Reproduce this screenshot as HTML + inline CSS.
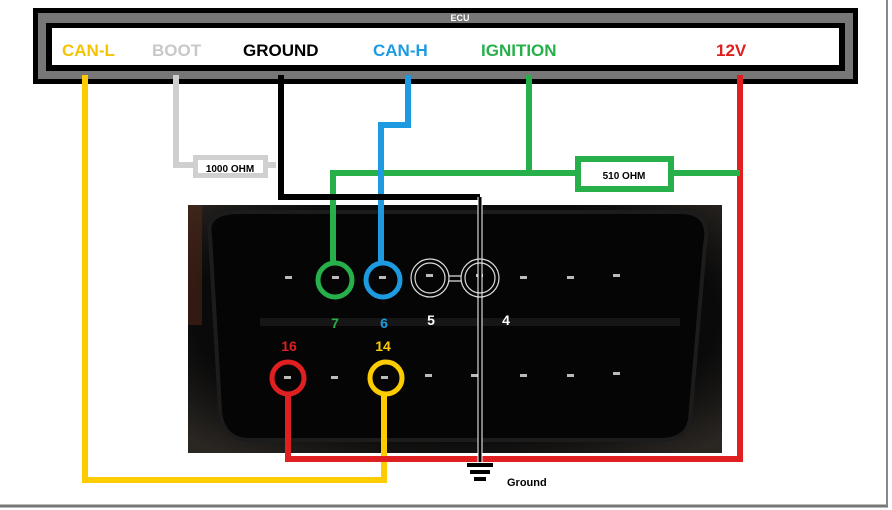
<!DOCTYPE html>
<html><head><style>
html,body{margin:0;padding:0;background:#fff;width:892px;height:510px;overflow:hidden}
text{font-family:"Liberation Sans",sans-serif;font-weight:bold}
</style></head><body>
<svg width="892" height="510" viewBox="0 0 892 510" xmlns="http://www.w3.org/2000/svg">
<defs>
<radialGradient id="ph" cx="50%" cy="45%" r="70%">
<stop offset="0" stop-color="#101010"/><stop offset="0.7" stop-color="#0a0a0a"/><stop offset="1" stop-color="#2a2622"/>
</radialGradient>
</defs>
<rect x="0" y="0" width="892" height="510" fill="#fff"/>
<line x1="0" y1="506" x2="888" y2="506" stroke="#777" stroke-width="3"/>
<line x1="887" y1="0" x2="887" y2="506" stroke="#888" stroke-width="2"/>
<!-- photo -->
<rect x="188" y="205" width="534" height="248" fill="url(#ph)"/>
<rect x="188" y="205" width="14" height="120" fill="#5a2a1a" opacity="0.5"/>
<path d="M210 235 Q205 212 240 212 L680 212 Q712 212 705 245 L690 420 Q686 440 660 440 L250 440 Q222 440 220 410 Z" fill="#050505" stroke="#1c1c1c" stroke-width="4"/>
<rect x="260" y="318" width="420" height="8" fill="#161616"/>
<g fill="#bbb">
<rect x="285" y="276" width="7" height="3"/><rect x="332" y="276" width="7" height="3"/><rect x="379" y="276" width="7" height="3"/><rect x="426" y="274" width="7" height="3"/><rect x="476" y="274" width="7" height="3"/><rect x="520" y="276" width="7" height="3"/><rect x="567" y="276" width="7" height="3"/><rect x="613" y="274" width="7" height="3"/>
<rect x="284" y="376" width="7" height="3"/><rect x="331" y="376" width="7" height="3"/><rect x="381" y="376" width="7" height="3"/><rect x="425" y="374" width="7" height="3"/><rect x="471" y="374" width="7" height="3"/><rect x="520" y="374" width="7" height="3"/><rect x="567" y="374" width="7" height="3"/><rect x="613" y="372" width="7" height="3"/>
</g>
<!-- ECU -->
<rect x="33" y="8" width="825" height="76" fill="#000"/>
<rect x="38" y="13" width="815" height="66" fill="#777"/>
<rect x="46" y="23" width="799" height="48" fill="#000"/>
<rect x="52" y="28" width="787" height="37" fill="#fff"/>
<text x="460" y="21" font-size="9" fill="#fff" text-anchor="middle">ECU</text>
<g font-size="17">
<text x="62" y="56" fill="#f5c400">CAN-L</text>
<text x="152" y="56" fill="#c8c8c8">BOOT</text>
<text x="243" y="56" fill="#000">GROUND</text>
<text x="373" y="56" fill="#1e9be0">CAN-H</text>
<text x="481" y="56" fill="#27b04a">IGNITION</text>
<text x="716" y="56" fill="#e01e1e">12V</text>
</g>
<!-- wires -->
<g fill="none" stroke-width="6">
<path d="M85 75 V480 H384 V394" stroke="#fccc00"/>
<path d="M740 75 V459 H288 V394" stroke="#e02020"/>
<path d="M176 75 V165 H196" stroke="#cfcfcf"/>
<path d="M266 165 H276" stroke="#cfcfcf"/>
<path d="M529 75 V173 M333 264 V173 H740" stroke="#27b04a"/>
<path d="M408 75 V125 H381 V264" stroke="#1e9be0"/>
<path d="M281 75 V197 H480" stroke="#000"/>
<path d="M480 197 V462" stroke="#fff" stroke-width="5"/>
<path d="M480 197 V462" stroke="#000" stroke-width="3"/>
</g>
<rect x="193" y="155" width="75" height="23" fill="#d0d0d0"/>
<rect x="198" y="160" width="65" height="13" fill="#fff"/>
<text x="230" y="172" font-size="10" text-anchor="middle">1000 OHM</text>
<rect x="578" y="159" width="93" height="30" fill="#fff" stroke="#27b04a" stroke-width="6"/>
<text x="624" y="179" font-size="10" text-anchor="middle">510 OHM</text>
<!-- circles -->
<g fill="none" stroke-width="5">
<circle cx="335" cy="280" r="17" stroke="#27b04a"/>
<circle cx="383" cy="280" r="17" stroke="#1e9be0"/>
<circle cx="288" cy="378" r="16" stroke="#e02020"/>
<circle cx="386" cy="378" r="16" stroke="#fccc00"/>
</g>
<g fill="none" stroke="#ddd" stroke-width="1.2">
<circle cx="430" cy="278" r="19"/><circle cx="430" cy="278" r="15"/>
<circle cx="480" cy="278" r="19"/><circle cx="480" cy="278" r="15"/>
<path d="M449 276 H461 M449 281 H461"/>
</g>
<g font-size="14" text-anchor="middle">
<text x="335" y="328" fill="#27b04a">7</text>
<text x="384" y="328" fill="#1e9be0">6</text>
<text x="431" y="325" fill="#fff">5</text>
<text x="506" y="325" fill="#fff">4</text>
<text x="289" y="351" fill="#e02020">16</text>
<text x="383" y="351" fill="#fccc00">14</text>
</g>
<!-- ground symbol -->
<g fill="#000">
<rect x="467" y="463" width="26" height="4"/><rect x="470" y="470" width="20" height="4"/><rect x="474" y="477" width="12" height="4"/>
</g>
<text x="507" y="486" font-size="11" fill="#000">Ground</text>
</svg>
</body></html>
